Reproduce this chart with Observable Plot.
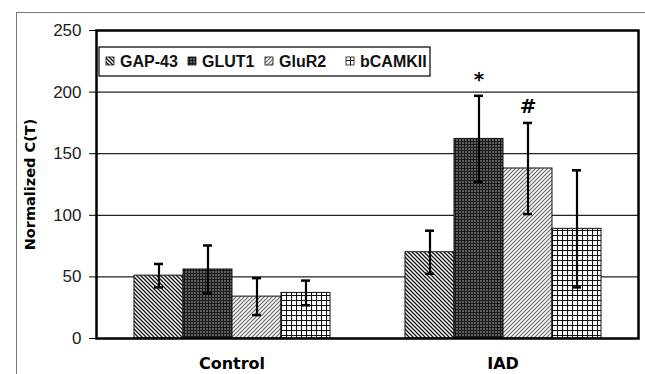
<!DOCTYPE html>
<html><head><meta charset="utf-8">
<script src="https://cdn.jsdelivr.net/npm/d3@7"></script>
<script src="https://cdn.jsdelivr.net/npm/@observablehq/plot@0.6"></script>
<style>
body{margin:0;background:#fff;}
#wrap{position:relative;width:645px;height:374px;overflow:hidden;}
#border{position:absolute;left:16px;top:12px;width:640px;height:370px;border-top:1.5px solid #777;border-left:1.5px solid #777;}
#wrap svg{position:absolute;left:0;top:0;}
</style></head><body><div id="wrap"><div id="border"></div></div>
<script>
const groups = ["Control", "IAD"];
const series = ["GAP-43", "GLUT1", "GluR2", "bCAMKII"];
const controlMeans = [51, 56, 34, 37];
const controlErr = [9.5, 19.5, 15, 10];
const iadMeans = [70, 162, 138, 89];
const iadErr = [17.5, 35, 37, 47.5];
const iadMarks = ["", "*", "#", ""];
const yTicks = [0, 50, 100, 150, 200, 250];
const patternIds = ["pGap", "pGlut", "pGlur", "pCam"];

const rows = [];
series.forEach((s, i) => {
  rows.push({group: "Control", series: s, value: controlMeans[i], err: controlErr[i], mark: "", pat: `url(#${patternIds[i]})`});
  rows.push({group: "IAD", series: s, value: iadMeans[i], err: iadErr[i], mark: iadMarks[i], pat: `url(#${patternIds[i]})`});
});

const plot = Plot.plot({
  width: 645, height: 374,
  marginLeft: 95, marginRight: 7, marginTop: 30, marginBottom: 36,
  style: {fontFamily: "'Liberation Sans', Arial, sans-serif", background: "transparent", color: "#000"},
  fx: {domain: groups, padding: 0, label: null},
  x: {domain: series, paddingInner: 0, paddingOuter: 0.75, axis: null},
  y: {domain: [0, 250]},
  color: {type: "identity"},
  marks: [
    Plot.gridY(yTicks.slice(1, -1), {stroke: "#222", strokeOpacity: 1, strokeWidth: 1.2}),
    Plot.barY(rows, {fx: "group", x: "series", y: "value", fill: "pat", stroke: "#111", strokeWidth: 1, strokeDasharray: d => d.series === "GLUT1" ? "2,1.5" : null}),
    Plot.ruleX(rows, {fx: "group", x: "series", y1: d => d.value - d.err, y2: d => d.value + d.err, strokeWidth: 2.2}),
    Plot.tickY(rows, {fx: "group", x: "series", y: d => d.value - d.err, insetLeft: 20, insetRight: 20, strokeWidth: 2.5}),
    Plot.tickY(rows, {fx: "group", x: "series", y: d => d.value + d.err, insetLeft: 20, insetRight: 20, strokeWidth: 2.5}),
    Plot.text(rows.filter(d => d.mark), {fx: "group", x: "series", y: d => d.value + d.err, text: "mark", dy: -16, fontSize: 20, fontWeight: "bold", fontFamily: "'DejaVu Sans', sans-serif"}),
    Plot.frame({facet: "super", strokeWidth: 2.5}),
    Plot.axisY({ticks: yTicks, tickSize: 7, tickPadding: 8, fontSize: 17, fill: "#222", label: null}),
    Plot.axisY({ticks: [], label: "Normalized C(T)", labelAnchor: "center", labelArrow: "none", labelOffset: 72, fontSize: 14.5, fontWeight: "bold", fontFamily: "'DejaVu Sans', sans-serif"}),
    Plot.axisFx({anchor: "bottom", tickSize: 0, tickPadding: 19, fontSize: 16, fontWeight: "bold", fontFamily: "'DejaVu Sans', sans-serif", label: null})
  ]
});

const svg = d3.select(plot);
const defs = svg.insert("defs", ":first-child");
function pat(id, size, bg, draw) {
  const p = defs.append("pattern").attr("id", id).attr("patternUnits", "userSpaceOnUse").attr("width", size).attr("height", size);
  p.append("rect").attr("width", size).attr("height", size).attr("fill", bg);
  draw(p);
}
pat("pGap", 4, "#fff", p => p.append("path").attr("d", "M-1,-1L5,5M-1,3L1,5M3,-1L5,1").attr("stroke", "#111").attr("stroke-width", 1.3));
pat("pGlut", 3, "#5e5e5e", p => p.append("path").attr("d", "M0,0.5H3M0.5,0V3").attr("stroke", "#1a1a1a").attr("stroke-width", 1));
pat("pGlur", 4, "#fff", p => p.append("path").attr("d", "M-1,5L5,-1M-1,1L1,-1M3,5L5,3").attr("stroke", "#666").attr("stroke-width", 1.2));
pat("pCam", 5, "#fff", p => p.append("path").attr("d", "M0,0.5H5M0.5,0V5").attr("stroke", "#111").attr("stroke-width", 1.1));

// legend
const lg = svg.append("g").attr("font-family", "'Liberation Sans', Arial, sans-serif").attr("font-size", 16).attr("font-weight", "bold").attr("text-anchor", "start").attr("fill", "#111");
lg.append("rect").attr("x", 99).attr("y", 47).attr("width", 331).attr("height", 29).attr("fill", "#fff").attr("stroke", "#111").attr("stroke-width", 1.3);
const lx = [106, 188, 265, 346];
series.forEach((s, i) => {
  lg.append("rect").attr("x", lx[i]).attr("y", 57).attr("width", 8).attr("height", 8).attr("fill", `url(#${patternIds[i]})`).attr("stroke", "#111").attr("stroke-width", 0.8);
  lg.append("text").attr("x", lx[i] + 14).attr("y", 67).attr("text-anchor", "start").text(s);
});

document.getElementById("wrap").appendChild(plot);
</script></body></html>
